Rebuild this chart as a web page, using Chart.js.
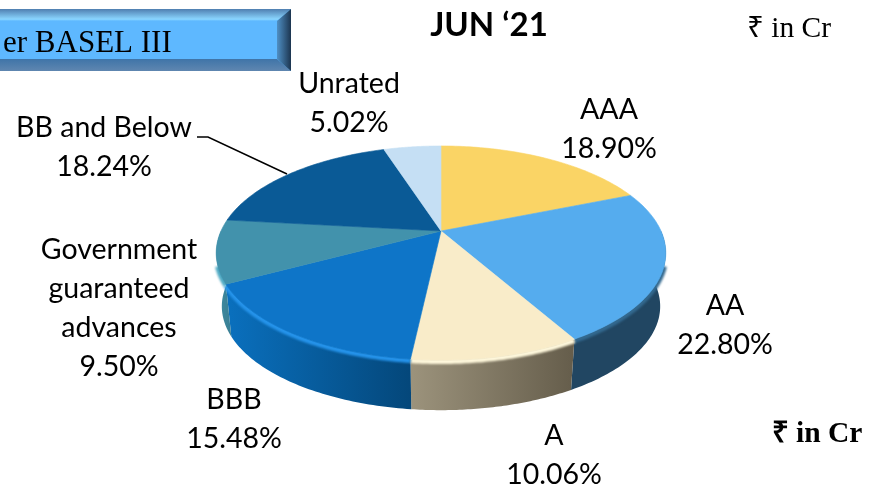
<!DOCTYPE html>
<html>
<head>
<meta charset="utf-8">
<style>
  html, body { margin: 0; padding: 0; background: #fff; overflow: hidden; }
  canvas { display: block; }
</style>
<script src="https://cdn.jsdelivr.net/npm/chart.js@4"></script>
</head>
<body>
<canvas id="chart" width="878" height="487"></canvas>
<script>
const categories = ['AAA', 'AA', 'A', 'BBB', 'Government guaranteed advances', 'BB and Below', 'Unrated'];
const shares = [18.90, 22.80, 10.06, 15.48, 9.50, 18.24, 5.02];

const titleText = 'JUN ‘21';
const bannerText = 'er BASEL III';
const unitText = '₹ in Cr';

const topColors = ['#FAD465', '#55ACEE', '#F9ECC9', '#0E75C8', '#4292AC', '#0A5A96', '#C5DFF4'];
const wallLeft = ['#B89C4A', '#214662', '#9C937C', '#0A70BE', '#3F8CA2', '#07426F', '#8FA3B5'];
const wallRight = ['#B89C4A', '#214662', '#655D4B', '#04477A', '#3A7F94', '#07426F', '#8FA3B5'];
const rimColors = ['#FAD465', '#33698F', '#FFF8DC', '#2593EA', '#4FAAC4', '#0A5A96', '#C5DFF4'];

// where each label sits: first baseline + line gap
const labelSpots = [
  { x: 609, y: 119, lines: ['AAA'] },
  { x: 725, y: 315, lines: ['AA'] },
  { x: 554, y: 445, lines: ['A'] },
  { x: 234, y: 409, lines: ['BBB'] },
  { x: 119, y: 259, lines: ['Government', 'guaranteed', 'advances'] },
  { x: 104, y: 137, lines: ['BB and Below'] },
  { x: 349, y: 93, lines: ['Unrated'] }
];

// perspective of the disc: apex, semi axes, foreshortening
const apexX = 441, apexY = 231, axisX = 220, axisY = 102.5, tilt = -0.2056;
const depth = 54, bottomScale = 0.975;
const deg = Math.PI / 180;
const wallFrom = 90 * deg, wallTo = 270 * deg, rimFrom = 108 * deg, rimTo = 252 * deg;

function project(theta, bottom) {
  const u = Math.sin(theta), v = -Math.cos(theta);
  const d = 1 + tilt * v;
  let x = apexX + axisX * u / d;
  let y = apexY + axisY * v / d;
  if (bottom) {
    x = apexX + (x - apexX) * bottomScale;
    y = apexY + (y - apexY) * 0.97 + depth;
  }
  return [x, y];
}

function arcPoints(a, b, bottom) {
  const pts = [], n = 60;
  for (let i = 0; i <= n; i++) pts.push(project(a + (b - a) * i / n, bottom));
  return pts;
}

function tracePath(ctx, pts) {
  pts.forEach(p => ctx.lineTo(p[0], p[1]));
}

const pie3d = {
  id: 'pie3d',
  // the slices are read from the arc elements and drawn tilted, so skip the flat draw
  beforeDatasetDraw(chart, args) {
    const ctx = chart.ctx;
    const arcs = args.meta.data.map((el, i) => ({
      i, a: el.startAngle + Math.PI / 2, b: el.endAngle + Math.PI / 2
    }));

    // front walls only, the back ones would peek out around the top
    arcs.forEach(s => {
      const a = Math.max(s.a, wallFrom), b = Math.min(s.b, wallTo);
      if (b <= a) return;
      const top = arcPoints(a, b, false), low = arcPoints(a, b, true);
      const xs = top.concat(low).map(p => p[0]);
      const g = ctx.createLinearGradient(Math.min(...xs), 0, Math.max(...xs), 0);
      g.addColorStop(0, wallLeft[s.i]);
      g.addColorStop(1, wallRight[s.i]);
      ctx.beginPath();
      tracePath(ctx, top);
      tracePath(ctx, low.reverse());
      ctx.closePath();
      ctx.fillStyle = g;
      ctx.fill();
    });

    // soft bevel under the front edge only
    ctx.save();
    ctx.filter = 'blur(1px)';
    arcs.forEach(s => {
      const a = Math.max(s.a, rimFrom), b = Math.min(s.b, rimTo);
      if (b <= a) return;
      ctx.beginPath();
      tracePath(ctx, arcPoints(a, b, false).map(p => [p[0], p[1] + 1.5]));
      ctx.strokeStyle = rimColors[s.i];
      ctx.lineWidth = 5;
      ctx.stroke();
    });
    ctx.restore();

    // top faces
    arcs.forEach(s => {
      ctx.beginPath();
      ctx.moveTo(apexX, apexY);
      tracePath(ctx, arcPoints(s.a, s.b, false));
      ctx.closePath();
      ctx.fillStyle = topColors[s.i];
      ctx.strokeStyle = topColors[s.i];
      ctx.lineWidth = 0.6;
      ctx.fill();
      ctx.stroke();
    });
    return false;
  },
  afterDraw(chart) {
    const ctx = chart.ctx;
    drawBanner(ctx);

    // leader for BB and Below
    ctx.beginPath();
    ctx.moveTo(197, 137);
    ctx.lineTo(208, 137);
    ctx.lineTo(287, 174);
    ctx.strokeStyle = '#000';
    ctx.lineWidth = 1.5;
    ctx.stroke();

    ctx.fillStyle = '#000';
    ctx.textAlign = 'center';
    ctx.textBaseline = 'alphabetic';
    ctx.font = '28.5px Lato';
    labelSpots.forEach((spot, i) => {
      const lines = spot.lines.concat(shares[i].toFixed(2) + '%');
      lines.forEach((t, k) => ctx.fillText(t, spot.x, spot.y + k * 39));
    });

    ctx.font = 'bold 33px Lato';
    ctx.fillText(titleText, 489, 36);

    ctx.font = '29.5px "Liberation Serif"';
    ctx.fillText(unitText, 789, 37);
    ctx.font = 'bold 29.5px "Liberation Serif"';
    ctx.fillText(unitText, 817, 442);
  }
};

function drawBanner(ctx) {
  const right = 291, top = 9, bottom = 71, inset = 14, band = 12;
  ctx.fillStyle = '#5EB8FF';
  ctx.fillRect(0, top, right, bottom - top);

  let g = ctx.createLinearGradient(0, top, 0, top + band);
  g.addColorStop(0, '#4F7FB0');
  g.addColorStop(0.85, '#8AD6FF');
  g.addColorStop(1, '#5EB8FF');
  ctx.fillStyle = g;
  ctx.beginPath();
  ctx.moveTo(0, top); ctx.lineTo(right, top); ctx.lineTo(right - inset, top + band); ctx.lineTo(0, top + band);
  ctx.closePath(); ctx.fill();

  g = ctx.createLinearGradient(0, bottom - band, 0, bottom);
  g.addColorStop(0, '#3F74A8');
  g.addColorStop(1, '#5F86B0');
  ctx.fillStyle = g;
  ctx.beginPath();
  ctx.moveTo(0, bottom - band); ctx.lineTo(right - inset, bottom - band); ctx.lineTo(right, bottom); ctx.lineTo(0, bottom);
  ctx.closePath(); ctx.fill();

  g = ctx.createLinearGradient(right - inset, 0, right, 0);
  g.addColorStop(0, '#4F8FC4');
  g.addColorStop(1, '#1C3550');
  ctx.fillStyle = g;
  ctx.beginPath();
  ctx.moveTo(right, top); ctx.lineTo(right, bottom); ctx.lineTo(right - inset, bottom - band); ctx.lineTo(right - inset, top + band);
  ctx.closePath(); ctx.fill();

  ctx.fillStyle = '#000';
  ctx.textAlign = 'left';
  ctx.textBaseline = 'alphabetic';
  ctx.font = '31px "Liberation Serif"';
  ctx.fillText(bannerText, 3, 52);
}

new Chart(document.getElementById('chart'), {
  type: 'pie',
  data: {
    labels: categories,
    datasets: [{ data: shares, backgroundColor: topColors, borderWidth: 0 }]
  },
  options: {
    responsive: false,
    animation: false,
    plugins: {
      legend: { display: false },
      tooltip: { enabled: false }
    }
  },
  plugins: [pie3d]
});
</script>
</body>
</html>
